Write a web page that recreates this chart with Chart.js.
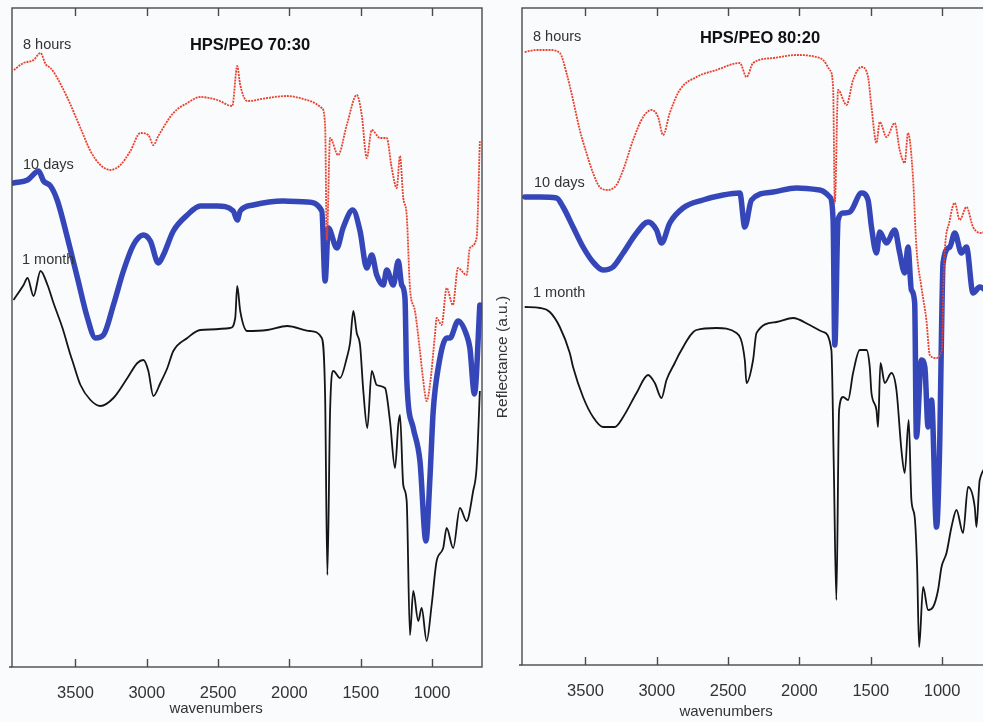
<!DOCTYPE html>
<html>
<head>
<meta charset="utf-8">
<script src="https://cdn.jsdelivr.net/npm/chart.js@4.4.0/dist/chart.umd.min.js"></script>
<style>
    html, body { margin: 0; padding: 0; width: 983px; height: 722px; overflow: hidden; background: #f9fbfd; }
    #leftBox { position: absolute; left: 0; top: 0; width: 490px; height: 722px; }
    #rightBox { position: absolute; left: 490px; top: 0; width: 502px; height: 722px; }
</style>
</head>
<body>
<div id="leftBox"><canvas id="chartLeft"></canvas></div>
<div id="rightBox"><canvas id="chartRight"></canvas></div>
<script>
// tick labels on the wavenumber axis
var tickValues = [3500, 3000, 2500, 2000, 1500, 1000];
var seriesNames = ['8 hours', '10 days', '1 month'];

// HPS/PEO 70:30
var wn70_8h = [3932,3864,3794,3745,3710,3675,3640,3556,3465,3395,3325,3255,3185,3115,3045,2989,2954,2919,2814,2716,2625,2506,2401,2366,2345,2296,2156,2016,1876,1855,1773,1750,1738,1715,1659,1598,1528,1493,1458,1423,1365,1318,1283,1248,1225,1202,1178,1155,1120,1085,1064,1038,1015,980,968,933,898,854,819,758,735,688,665];
var refl70_8h = [596,603,606,613,602,598,591,568,538,515,501,496,501,515,533,531,521,530,553,563,569,566,560,600,581,565,568,570,566,565,558,541,425,528,511,541,571,551,508,536,528,528,498,478,510,468,451,378,355,315,288,265,281,331,348,341,378,361,398,391,418,428,525];

var wn70_10d = [3934,3836,3759,3724,3675,3626,3556,3486,3416,3360,3304,3234,3164,3094,3024,2975,2919,2884,2814,2716,2625,2506,2394,2366,2345,2254,2044,1876,1773,1750,1727,1668,1624,1556,1505,1458,1423,1388,1342,1318,1272,1237,1213,1190,1178,1132,1085,1043,1015,992,957,898,875,817,758,735,703,665];
var refl70_10d = [483,486,495,485,480,465,428,388,348,328,331,361,395,421,431,425,403,411,435,451,460,460,455,446,455,461,465,464,455,385,438,418,438,456,435,398,411,391,381,396,381,405,381,368,288,238,205,125,188,255,298,328,328,345,331,318,272,361];

var wn70_1m = [3934,3864,3836,3794,3745,3696,3654,3591,3535,3521,3465,3395,3325,3234,3136,3066,3024,2989,2954,2905,2856,2814,2716,2625,2415,2380,2366,2345,2296,2156,2016,1855,1773,1750,1734,1715,1692,1645,1598,1575,1552,1528,1505,1482,1454,1423,1388,1330,1295,1260,1237,1225,1202,1178,1155,1132,1097,1073,1038,1003,968,922,898,852,805,758,712,688,665];
var refl70_1m = [366,381,388,370,395,381,363,338,311,305,281,266,260,268,288,303,306,295,270,283,298,315,328,336,338,348,380,355,335,336,340,335,328,271,91,255,295,288,308,323,355,333,321,275,238,295,281,278,245,198,241,251,181,165,31,75,45,58,25,61,105,118,138,118,158,145,175,198,275];

// HPS/PEO 80:20
var wn80_8h = [3926,3843,3750,3680,3633,3587,3540,3493,3447,3400,3342,3283,3236,3166,3096,3037,2991,2956,2909,2839,2722,2582,2418,2371,2325,2185,2021,1881,1834,1787,1764,1752,1729,1670,1624,1565,1519,1495,1460,1437,1390,1332,1297,1262,1239,1204,1180,1145,1110,1086,1044,1002,988,946,911,876,829,783,724,660];
var refl80_8h = [613,615,615,612,592,565,535,512,492,478,475,480,495,525,548,555,548,530,552,575,588,595,602,588,602,607,610,608,605,595,578,462,575,560,585,598,588,558,522,543,528,542,515,502,532,488,418,378,345,310,307,315,395,445,462,445,458,438,432,440];

var wn80_10d = [3926,3820,3703,3657,3587,3517,3447,3377,3307,3236,3142,3061,3002,2967,2909,2816,2676,2535,2418,2383,2336,2185,2021,1858,1787,1764,1752,1729,1694,1647,1565,1519,1495,1460,1437,1390,1332,1297,1262,1239,1215,1192,1180,1145,1121,1098,1074,1039,1016,1004,993,946,911,864,829,783,736,660];
var refl80_10d = [468,468,467,458,438,418,403,395,398,412,432,443,435,422,442,457,465,470,472,438,465,473,477,475,468,445,320,445,452,453,472,465,438,412,433,422,435,412,392,418,375,362,228,305,298,238,265,138,225,332,402,418,432,412,418,372,378,370];

var wn80_1m = [3926,3820,3750,3680,3610,3587,3517,3447,3377,3295,3236,3142,3061,3014,2967,2932,2874,2839,2722,2582,2441,2383,2371,2325,2301,2161,2045,1928,1834,1776,1759,1741,1722,1694,1659,1624,1577,1530,1507,1495,1460,1449,1432,1402,1355,1320,1285,1262,1234,1215,1192,1175,1161,1133,1098,1063,1028,1004,969,934,899,853,818,771,759,736,660];
var refl80_1m = [358,357,353,338,312,298,268,248,238,238,248,272,290,282,267,285,302,312,335,337,332,305,282,305,332,343,347,340,333,315,198,65,255,268,265,292,315,315,298,272,255,238,302,282,292,275,215,192,245,165,148,98,18,78,55,58,75,98,112,138,155,132,178,158,138,185,200];

function pairs(xs, ys) {
    return xs.map(function (x, i) { return { x: x, y: ys[i] }; });
}

function spectra(w8, r8, w10, r10, w1, r1) {
    return [{
        label: seriesNames[0],
        data: pairs(w8, r8),
        borderColor: '#e8412f',
        borderWidth: 1.8,
        borderDash: [2, 1],
        order: 0
    }, {
        label: seriesNames[1],
        data: pairs(w10, r10),
        borderColor: '#3547b8',
        borderWidth: 5.5,
        borderCapStyle: 'round',
        borderJoinStyle: 'round',
        order: 1
    }, {
        label: seriesNames[2],
        data: pairs(w1, r1),
        borderColor: '#151515',
        borderWidth: 1.8,
        order: 2
    }];
}

// box, inward ticks and the free-standing texts
var framePlugin = {
    id: 'frame',
    afterDatasetsDraw: function (chart, args, opts) {
        var ctx = chart.ctx, a = chart.chartArea, xs = chart.scales.x;
        ctx.save();
        ctx.strokeStyle = '#4a4a4a';
        ctx.lineWidth = 1.4;
        ctx.strokeRect(a.left, a.top, a.right - a.left, a.bottom - a.top);
        ctx.beginPath();
        ctx.moveTo(a.left - 3, a.bottom);
        ctx.lineTo(a.left, a.bottom);
        tickValues.forEach(function (v) {
            var px = Math.round(xs.getPixelForValue(v)) + 0.5;
            ctx.moveTo(px, a.top);
            ctx.lineTo(px, a.top + 8);
            ctx.moveTo(px, a.bottom);
            ctx.lineTo(px, a.bottom - 8);
        });
        ctx.stroke();

        ctx.textBaseline = 'middle';
        ctx.fillStyle = '#111';
        ctx.textAlign = 'center';
        ctx.font = 'bold 16.5px "Liberation Sans", Arial, sans-serif';
        ctx.fillText(opts.title, opts.titlePos[0], opts.titlePos[1]);

        ctx.fillStyle = '#333';
        ctx.textAlign = 'left';
        ctx.font = '14.5px "Liberation Sans", Arial, sans-serif';
        opts.labelPos.forEach(function (p, i) {
            ctx.fillText(seriesNames[i], p[0], p[1]);
        });

        ctx.textAlign = 'center';
        ctx.font = '15px "Liberation Sans", Arial, sans-serif';
        ctx.fillText('wavenumbers', xs.getPixelForValue(2500) - 2, opts.xTitleY);

        if (opts.yTitle) {
            ctx.translate(opts.yTitle[0], opts.yTitle[1]);
            ctx.rotate(-Math.PI / 2);
            ctx.font = '15.5px "Liberation Sans", Arial, sans-serif';
            ctx.fillText('Reflectance (a.u.)', 0, 0);
        }
        ctx.restore();
    }
};

function makeChart(id, datasets, yMin, yMax, axisHeight, pad, frame) {
    var ctx = document.getElementById(id).getContext('2d');
    return new Chart(ctx, {
        type: 'line',
        data: { datasets: datasets },
        options: {
            responsive: true,
            maintainAspectRatio: false,
            animation: false,
            layout: { padding: pad },
            elements: { point: { radius: 0 }, line: { cubicInterpolationMode: 'monotone' } },
            plugins: { legend: { display: false }, tooltip: { enabled: false }, frame: frame },
            scales: {
                x: {
                    type: 'linear',
                    reverse: true,
                    min: 650,
                    max: 3945,
                    grid: { display: false, drawTicks: false },
                    border: { display: false },
                    afterBuildTicks: function (scale) {
                        scale.ticks = tickValues.map(function (v) { return { value: v }; });
                    },
                    afterFit: function (scale) { scale.height = axisHeight; },
                    ticks: {
                        padding: 17,
                        maxRotation: 0,
                        autoSkip: false,
                        color: '#333',
                        font: { family: '"Liberation Sans", Arial, sans-serif', size: 16.5 },
                        callback: function (v) { return String(v); }
                    }
                },
                y: { display: false, min: yMin, max: yMax }
            }
        },
        plugins: [framePlugin]
    });
}

makeChart('chartLeft', spectra(wn70_8h, refl70_8h, wn70_10d, refl70_10d, wn70_1m, refl70_1m),
    -1, 658, 55, { left: 12, right: 8, top: 8, bottom: 0 }, {
        title: 'HPS/PEO 70:30',
        titlePos: [250, 45],
        labelPos: [[23, 45], [23, 165], [22, 260]],
        xTitleY: 709
    });

makeChart('chartRight', spectra(wn80_8h, refl80_8h, wn80_10d, refl80_10d, wn80_1m, refl80_1m),
    0, 657, 57, { left: 32, right: 0, top: 8, bottom: 0 }, {
        title: 'HPS/PEO 80:20',
        titlePos: [270, 38],
        labelPos: [[43, 37], [44, 183], [43, 293]],
        xTitleY: 712,
        yTitle: [13, 357]
    });
</script>
</body>
</html>
